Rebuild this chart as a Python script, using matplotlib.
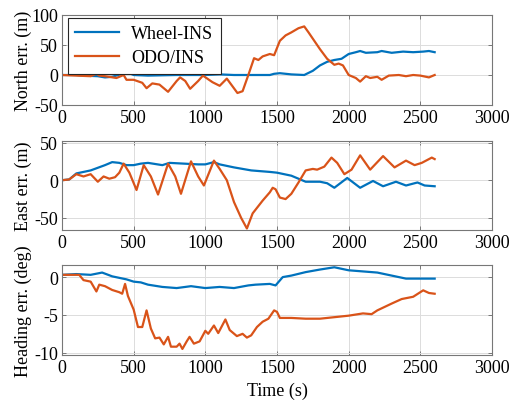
import matplotlib
matplotlib.use('Agg')
import matplotlib.pyplot as plt

# ---- data ----
t_north_wheel = [0, 100, 150, 250, 300, 350, 420, 470, 500, 600, 800, 1000, 1100, 1200, 1300,
                 1400, 1450, 1480, 1520, 1600, 1690, 1750, 1800, 1850, 1900, 1950, 2000, 2050,
                 2080, 2120, 2200, 2230, 2300, 2380, 2450, 2520, 2560, 2600]
north_wheel = [0, 0, -1, -2, -4, -3, 2, 3, 0, -1, 0, 0, 1, 0, 0,
               0, 0, 2, 3, 1, 0, 7, 16, 22, 25, 27, 35, 38,
               40, 37, 38, 40, 37, 39, 38, 39, 40, 38]

t_north_odo = [0, 100, 200, 240, 260, 300, 380, 430, 450, 500, 560, 590, 630, 680, 740, 800,
               824, 860, 894, 950, 983, 1050, 1100, 1150, 1224, 1260, 1300, 1340, 1370, 1400,
               1450, 1480, 1520, 1560, 1600, 1650, 1690, 1720, 1800, 1850, 1900, 1930, 1960,
               2000, 2050, 2080, 2120, 2150, 2200, 2230, 2280, 2350, 2400, 2450, 2500, 2560, 2600]
north_odo = [0, -1, -2, 2, -1, -2, -5, 0, -8, -8, -13, -22, -14, -16, -28, -10,
             -4, -10, -23, -10, -1, -12, -18, -6, -30, -27, 0, 28, 25, 31,
             35, 33, 57, 66, 71, 78, 81, 71, 43, 27, 17, 19, 16,
             0, -5, -11, -2, -5, -3, -8, -1, 0, -2, 0, -1, -4, 0]

t_east_wheel = [0, 50, 100, 200, 300, 350, 400, 450, 500, 550, 600, 700, 750, 850, 950, 1000,
                1060, 1100, 1200, 1320, 1450, 1500, 1600, 1700, 1800, 1850, 1900, 1990, 2080,
                2170, 2240, 2330, 2400, 2480, 2530, 2600]
east_wheel = [0, 1, 9, 13, 20, 24, 23, 20, 20, 22, 23, 20, 23, 22, 21, 21,
              24, 21, 17, 13, 11, 10, 6, -2, -2, -4, -10, 3, -10,
              -1, -8, -2, -7, -3, -7, -8]

t_east_odo = [0, 50, 100, 150, 200, 250, 290, 330, 370, 400, 430, 470, 520, 570, 620, 670,
              740, 790, 830, 900, 950, 990, 1060, 1100, 1150, 1200, 1250, 1290, 1330, 1400,
              1450, 1470, 1490, 1520, 1560, 1600, 1650, 1700, 1750, 1780, 1830, 1880, 1920,
              1970, 2020, 2080, 2150, 2240, 2320, 2400, 2460, 2510, 2580, 2600]
east_odo = [0, 1, 8, 5, 8, -2, 5, 2, 4, 10, 22, 10, -13, 20, 5, -19,
            22, 5, -18, 25, 5, -7, 26, 15, 0, -29, -50, -64, -44, -27,
            -16, -10, -12, -23, -25, -18, -3, 13, 15, 14, 18, 30, 23,
            8, 14, 33, 14, 32, 17, 26, 20, 23, 30, 28]

t_head_wheel = [0, 100, 200, 280, 350, 450, 500, 550, 600, 700, 800, 900, 1000, 1100, 1200,
                1300, 1350, 1450, 1490, 1540, 1600, 1700, 1800, 1900, 2000, 2100, 2200, 2300,
                2400, 2500, 2600]
head_wheel = [0.3, 0.4, 0.3, 0.6, 0.1, -0.3, -0.6, -0.7, -1.0, -1.3, -1.45, -1.2, -1.45, -1.3, -1.45,
              -1.1, -1.0, -0.9, -1.1, 0.0, 0.2, 0.66, 1.0, 1.3, 0.9, 0.75, 0.6, 0.2,
              -0.2, -0.2, -0.2]

t_head_odo = [0, 120, 150, 200, 240, 260, 300, 350, 400, 420, 440, 460, 500, 530, 560, 590,
              620, 650, 680, 710, 740, 760, 800, 820, 840, 870, 890, 920, 960, 1000, 1020,
              1060, 1090, 1140, 1170, 1220, 1260, 1290, 1320, 1360, 1400, 1440, 1480, 1500,
              1520, 1600, 1700, 1800, 1900, 2000, 2100, 2160, 2200, 2300, 2370, 2450, 2520,
              2560, 2600]
head_odo = [0.3, 0.3, -0.4, -0.6, -1.9, -1.0, -1.2, -1.7, -2.0, -2.2, -0.9, -2.5, -4.3, -6.6, -6.6, -4.4,
            -6.8, -8.1, -8.0, -8.9, -7.9, -9.2, -9.2, -8.8, -9.5, -8.5, -7.9, -8.8, -8.5, -7.1, -7.5,
            -6.4, -7.4, -5.6, -7.0, -7.8, -7.5, -8.0, -7.7, -6.6, -5.9, -5.5, -4.4, -4.6,
            -5.4, -5.4, -5.5, -5.5, -5.3, -5.1, -4.8, -4.9, -4.4, -3.5, -2.9, -2.6, -1.75,
            -2.1, -2.2]

x_ticks = [0, 500, 1000, 1500, 2000, 2500, 3000]

BLUE = '#0072BD'
ORANGE = '#D95319'

plt.rcParams['font.family'] = ['Liberation Serif', 'DejaVu Serif']
plt.rcParams['font.size'] = 13

fig = plt.figure(figsize=(5.14, 4.06), dpi=100)
W, H = 514, 406


def add_ax(top, bottom):
    return fig.add_axes([62 / W, 1 - bottom / H, 430 / W, (bottom - top) / H])


ax1 = add_ax(16, 106)
ax2 = add_ax(142, 231)
ax3 = add_ax(266, 356)

ax1.plot(t_north_wheel, north_wheel, color=BLUE, lw=1.6, label='Wheel-INS')
ax1.plot(t_north_odo, north_odo, color=ORANGE, lw=1.6, label='ODO/INS')
ax2.plot(t_east_wheel, east_wheel, color=BLUE, lw=1.6)
ax2.plot(t_east_odo, east_odo, color=ORANGE, lw=1.6)
ax3.plot(t_head_wheel, head_wheel, color=BLUE, lw=1.6)
ax3.plot(t_head_odo, head_odo, color=ORANGE, lw=1.6)

ax1.set_ylim(-50, 100)
ax1.set_yticks([-50, 0, 50, 100])
ax1.set_yticklabels(['-50', '0', '50', '100'])
ax2.set_ylim(-66, 52)
ax2.set_yticks([-50, 0, 50])
ax2.set_yticklabels(['-50', '0', '50'])
ax3.set_ylim(-10.3, 1.6)
ax3.set_yticks([-10, -5, 0])
ax3.set_yticklabels(['-10', '-5', '0'])

for ax in (ax1, ax2, ax3):
    ax.set_xlim(0, 3000)
    ax.set_xticks(x_ticks)
    ax.grid(True, color='#dcdcdc', lw=0.7)
    ax.set_axisbelow(True)
    ax.tick_params(direction='in', top=True, right=True, length=3,
                   color='#777777', width=0.7, pad=3)
    for s in ax.spines.values():
        s.set_color('#777777')
        s.set_linewidth(0.8)

ax1.set_ylabel('North err. (m)')
ax2.set_ylabel('East err. (m)')
ax3.set_ylabel('Heading err. (deg)')
for ax in (ax1, ax2, ax3):
    ax.yaxis.set_label_coords(-0.07, 0.5)
ax3.set_xlabel('Time (s)', labelpad=4)

leg = ax1.legend(loc='upper left', bbox_to_anchor=(0.014, 0.967), borderaxespad=0,
                 fancybox=False, edgecolor='#262626', framealpha=1, handlelength=2.4,
                 borderpad=0.4, labelspacing=0.4, handletextpad=0.7)
leg.get_frame().set_linewidth(0.8)

fig.savefig('out.png', dpi=100)
